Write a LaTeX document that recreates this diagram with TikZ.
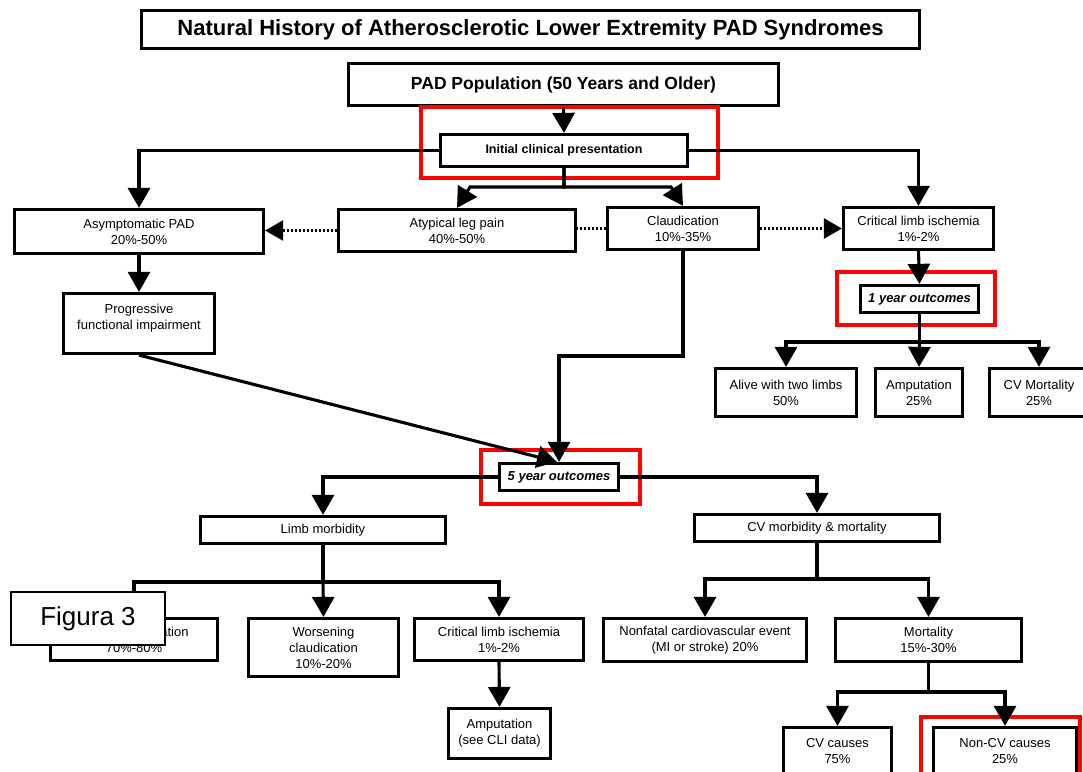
\documentclass[tikz,border=0pt]{standalone}
\usepackage{fontspec}
\setmainfont{Liberation Sans}
\usetikzlibrary{arrows.meta}
\begin{document}
\begin{tikzpicture}[x=1pt,y=-1pt,
  box/.style={draw=black, line width=3.2pt, fill=white, inner sep=0pt, align=center,
    font=\fontsize{13}{16}\selectfont},
  boldbox/.style={box, font=\bfseries\itshape\fontsize{13}{16}\selectfont},
  conn/.style={line width=3.1pt, draw=black},
  arr/.style={conn, -{Triangle[width=22pt,length=20pt]}},
  dotline/.style={line width=2.4pt, dash pattern=on 2pt off 2pt},
  dotarr/.style={dotline, -{Triangle[width=20pt,length=18pt]}},
  hilite/.style={draw=red, line width=4pt},
  figbox/.style={draw=black, line width=2pt, fill=white, inner sep=0pt,
    font=\fontsize{26}{30}\selectfont}
]
\useasboundingbox[fill=white] (0,0) rectangle (1083,771);

% boxes
\node[box, minimum width=778pt, minimum height=38pt, font=\bfseries\fontsize{22}{24}\selectfont] (title) at (530.5,29.5) {Natural History of Atherosclerotic Lower Extremity PAD Syndromes};
\node[box, minimum width=430pt, minimum height=42pt, font=\bfseries\fontsize{17.5}{20}\selectfont] (pad) at (563.5,84.5) {PAD Population (50 Years and Older)};
\node[box, minimum width=247pt, minimum height=32pt, font=\bfseries\fontsize{12.5}{15}\selectfont] (init) at (564,150.5) {Initial clinical presentation};

\node[box, minimum width=249pt, minimum height=44pt] (asym) at (139,231.5) {Asymptomatic PAD\\20\%-50\%};
\node[box, minimum width=237pt, minimum height=42pt] (atyp) at (457,230.5) {Atypical leg pain\\40\%-50\%};
\node[box, minimum width=151pt, minimum height=42pt] (claud) at (683,228.5) {Claudication\\10\%-35\%};
\node[box, minimum width=150pt, minimum height=42pt] (cli) at (918.5,228.5) {Critical limb ischemia\\1\%-2\%};
\node[box, minimum width=151pt, minimum height=60pt] (prog) at (139,323.5) {Progressive\\functional impairment\\[-8pt]\strut};

\node[boldbox, minimum width=118pt, minimum height=27pt] (one) at (919.5,299) {1 year outcomes};
\node[box, minimum width=141pt, minimum height=48pt] (alive) at (786,392.5) {Alive with two limbs\\50\%};
\node[box, minimum width=87pt, minimum height=48pt] (ampa) at (919,392.5) {Amputation\\25\%};
\node[box, minimum width=99pt, minimum height=48pt] (cvm) at (1039,392.5) {CV Mortality\\25\%};

\node[boldbox, minimum width=119pt, minimum height=27pt] (five) at (559,477) {5 year outcomes};
\node[box, minimum width=245pt, minimum height=27pt] (limb) at (323,530) {Limb morbidity};
\node[box, minimum width=245pt, minimum height=27pt] (cvmm) at (817,528) {CV morbidity \& mortality};

\node[box, minimum width=167pt, minimum height=42pt] (stab) at (134,639.5) {Stable claudication\\70\%-80\%};
\node[box, minimum width=150pt, minimum height=58pt] (wors) at (323.5,647.5) {Worsening\\claudication\\10\%-20\%};
\node[box, minimum width=169pt, minimum height=42pt] (clib) at (499,639.5) {Critical limb ischemia\\1\%-2\%};
\node[box, minimum width=102pt, minimum height=50pt] (ampb) at (499.5,733.5) {Amputation\\(see CLI data)};
\node[box, minimum width=203pt, minimum height=43pt] (nonf) at (705,640) {Nonfatal cardiovascular event\\(MI or stroke) 20\%};
\node[box, minimum width=186pt, minimum height=43pt] (mort) at (928.5,640) {Mortality\\15\%-30\%};
\node[box, minimum width=108pt, minimum height=47pt] (cvc) at (837.5,751) {CV causes\\75\%};
\node[box, minimum width=143pt, minimum height=47pt] (noncv) at (1005,751) {Non-CV causes\\25\%};

% red highlights
\draw[hilite] (421,107) rectangle (718,178);
\draw[hilite] (837,272) rectangle (995,325);
\draw[hilite] (481,450) rectangle (640,504);
\draw[hilite] (921,717) rectangle (1080,775);

% junction coordinates
\coordinate (tl) at (470,187);
\coordinate (tr) at (671,187);
\coordinate (cj) at (559,356);
\coordinate (oj) at (919.5,342);
\coordinate (lj) at (323,582);
\coordinate (vj) at (817,579);
\coordinate (mj) at (928.5,692);

% connectors
\draw[arr] (pad.south) -- (init.north);
\draw[arr] (init.west) -| (asym.north);
\draw[arr] (init.east) -| (cli.north);
\draw[arr] (init.south) |- (tl) -- (atyp.north);
\draw[arr] (init.south) |- (tr) -- (claud.north);

\draw[dotarr] (atyp.west) -- (atyp.west -| asym.east);
\draw[dotline] (claud.west) -- (claud.west -| atyp.east);
\draw[dotarr] (claud.east) -- (cli.west);

\draw[arr] (asym.south) -- (prog.north);
\draw[arr] (prog.south) -- ([xshift=-2pt]five.north);
\draw[arr] (claud.south) |- (cj) -- (five.north);

\draw[arr] (cli.south) -- (one.north);
\draw[conn] (one.south) -- (oj);
\draw[arr] (oj) -| (alive.north);
\draw[arr] (oj) -- (ampa.north);
\draw[arr] (oj) -| (cvm.north);

\draw[arr] (five.west) -| (limb.north);
\draw[arr] (five.east) -| (cvmm.north);

\draw[conn] (limb.south) -- (lj);
\draw[arr] (lj) -| (stab.north);
\draw[arr] (lj) -- (wors.north);
\draw[arr] (lj) -| (clib.north);
\draw[arr] (clib.south) -- (ampb.north);

\draw[conn] (cvmm.south) -- (vj);
\draw[arr] (vj) -| (nonf.north);
\draw[arr] (vj) -| (mort.north);
\draw[conn] (mort.south) -- (mj);
\draw[arr] (mj) -| (cvc.north);
\draw[arr] (mj) -| (noncv.north);

% overlay label
\node[figbox, minimum width=154pt, minimum height=53pt] (fig) at (88,618.5) {Figura 3};
\end{tikzpicture}
\end{document}
